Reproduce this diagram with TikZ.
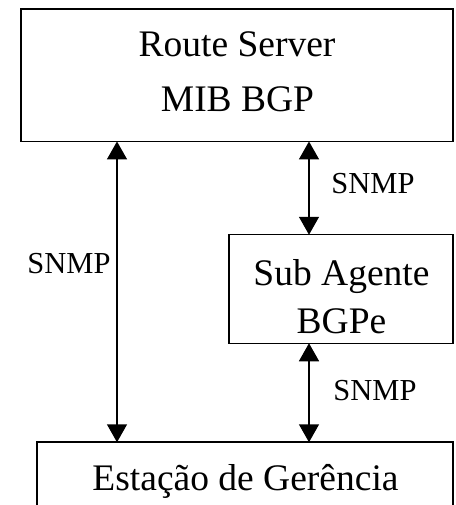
\documentclass[tikz,border=0pt]{standalone}
\usepackage{fontspec}
\setmainfont{Liberation Serif}
\usetikzlibrary{arrows.meta}
\begin{document}
\begin{tikzpicture}[x=1pt,y=-1pt,
  box/.style={draw, line width=1.5pt, inner sep=0pt, rectangle},
  big/.style={font=\fontsize{37.5}{44}\selectfont, inner sep=0pt, anchor=base},
  lbl/.style={font=\fontsize{30.5}{35}\selectfont, inner sep=0pt, anchor=base},
  arr/.style={line width=1.5pt, {Triangle[length=18pt,width=20pt]}-{Triangle[length=18pt,width=20pt]}, shorten <=-1pt, shorten >=-1pt}]
\useasboundingbox (0,0) rectangle (455,505);
\clip (0,0) rectangle (455,505);
% boxes
\node[box, minimum width=432pt, minimum height=132.7pt] (rs) at (237,75.35) {};
\node[box, minimum width=224pt, minimum height=109pt] (sa) at (341,289) {};
\node[box, minimum width=416pt, minimum height=100pt] (ge) at (245,492) {};
% texts
\node[big] (t1) at (237,57) {Route Server};
\node[big] (t2) at (237.5,112) {MIB BGP};
\node[big] (t3) at (341.5,285) {Sub Agente};
\node[big] (t4) at (341.5,333) {BGPe};
\node[big] (t5) at (245.5,490) {Estação de Gerência};
% connectors
\coordinate (lx) at (117,0);
\coordinate (rx) at (309,0);
\draw[arr] (rs.south -| lx) -- (ge.north -| lx);
\draw[arr] (rs.south -| rx) -- (sa.north -| rx);
\draw[arr] (sa.south -| rx) -- (ge.north -| rx);
% labels
\node[lbl] (s1) at (69,273) {SNMP};
\node[lbl] (s2) at (373,193) {SNMP};
\node[lbl] (s3) at (375,400) {SNMP};
\end{tikzpicture}
\end{document}
